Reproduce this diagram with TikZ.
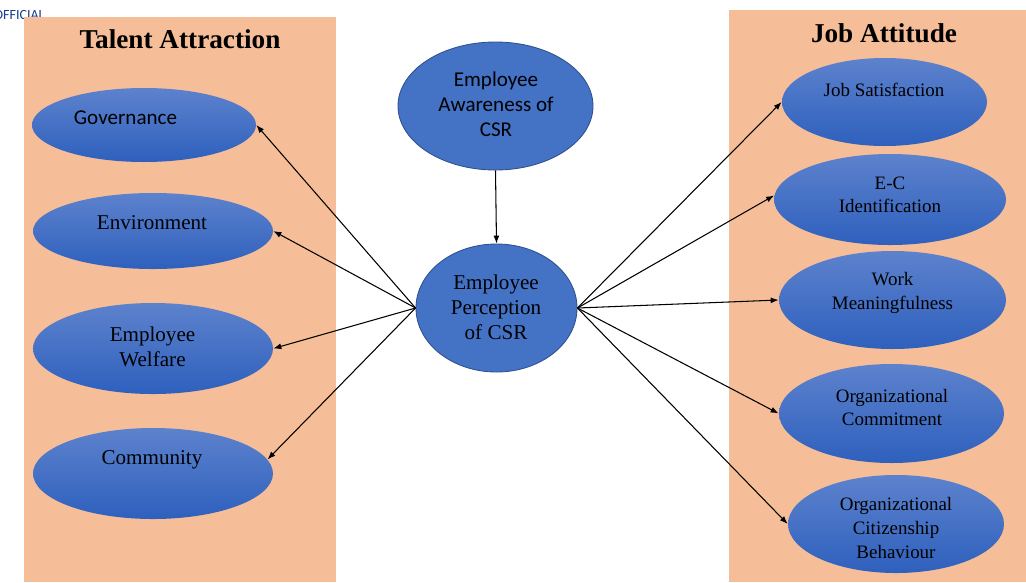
\documentclass[tikz,border=0pt]{standalone}
\usepackage{fontspec}
\setmainfont{Liberation Serif}
\newfontfamily\calibri{Carlito}
\usetikzlibrary{shapes.geometric,arrows.meta}
\definecolor{peach}{RGB}{245,190,152}
\definecolor{bubtop}{RGB}{93,130,205}
\definecolor{bubbot}{RGB}{46,96,189}
\definecolor{csrblue}{RGB}{68,114,196}
\definecolor{csredge}{RGB}{47,82,143}
\definecolor{tagblue}{RGB}{24,62,140}
\tikzset{
  bubble/.style={ellipse,top color=bubtop,bottom color=bubbot,draw=none,inner sep=0pt},
  csrbubble/.style={ellipse,fill=csrblue,draw=csredge,line width=0.5pt,inner sep=0pt},
  lbl/.style={align=center,inner sep=0pt,font=\fontsize{12}{14.2}\selectfont},
  rlbl/.style={align=center,inner sep=0pt,font=\fontsize{10.8}{13.4}\selectfont},
  title/.style={inner sep=0pt,font=\fontsize{15.5}{18}\selectfont\bfseries},
  link/.style={-{Latex[length=1.6mm,width=1.2mm]},line width=0.6pt}
}
\newcommand{\bubble}[5]{\node[bubble,minimum width=#4*0.02cm,minimum height=#5*0.02cm] (#1) at (#2,#3) {};}
\newcommand{\csrnode}[5]{\node[csrbubble,minimum width=#4*0.02cm,minimum height=#5*0.02cm] (#1) at (#2,#3) {};}
\newcommand{\arrowto}[2]{\draw[link] (#1) -- (#2);}

\begin{document}
\begin{tikzpicture}[x=0.02cm,y=-0.02cm]
    \useasboundingbox (0,0) rectangle (1026,582);
    \node[anchor=base east,inner sep=0pt,text=tagblue,font=\calibri\fontsize{8}{9}\selectfont] (tag) at (45,19) {OFFICIAL};
    % the two groups
    \fill[peach] (24,17) rectangle (336,582); \fill[peach] (729,10) rectangle (1026,582);
    \node[title] (talent) at (180,39) {Talent Attraction}; \node[title] (attitude) at (884,33) {Job Attitude};

    \bubble{gov}{144}{125}{224}{74}    \node[lbl,font=\calibri\fontsize{12}{14.2}\selectfont] (govtxt) at (125.5,117.5) {Governance};
    \bubble{env}{153}{231}{240}{76}    \node[lbl] (envtxt) at (152,222.5) {Environment};
    \bubble{wel}{153}{348.5}{240}{91}  \node[lbl] (weltxt) at (152.5,347) {Employee\\Welfare};
    \bubble{comm}{153}{473.5}{240}{91} \node[lbl] (commtxt) at (152,460) {Community};

    \csrnode{aware}{495.5}{106}{195}{128} \node[lbl,font=\calibri\fontsize{12}{14.2}\selectfont] (awaretxt) at (496,104.5) {Employee\\Awareness of\\CSR};
    \csrnode{perc}{496.5}{308}{161}{128}  \node[lbl] (perctxt) at (496,307) {Employee\\Perception\\of CSR};

    \bubble{js}{884.5}{102}{205}{88}    \node[rlbl] (jstxt) at (884,89.5) {Job Satisfaction};
    \bubble{ec}{890}{199.5}{232}{91}    \node[rlbl] (ectxt) at (890,195) {E-C\\Identification};
    \bubble{wm}{892.5}{300}{227}{98}    \node[rlbl] (wmtxt) at (892.5,293) {Work\\Meaningfulness};
    \bubble{oc}{891.5}{413.5}{225}{99}  \node[rlbl] (octxt) at (892,407.5) {Organizational\\Commitment};
    \bubble{ocb}{896}{524}{216}{98}     \node[rlbl] (ocbtxt) at (896,528) {Organizational\\Citizenship\\Behaviour};

    \arrowto{aware.south}{perc.north}
    \arrowto{perc.west}{gov.east}\arrowto{perc.west}{env.east}
    \arrowto{perc.west}{wel.east}\arrowto{perc.west}{comm.7}
    \arrowto{perc.east}{js.west}\arrowto{perc.east}{ec.178}\arrowto{perc.east}{wm.west}
    \arrowto{perc.east}{oc.west}\arrowto{perc.east}{ocb.west}
\end{tikzpicture}
\end{document}
